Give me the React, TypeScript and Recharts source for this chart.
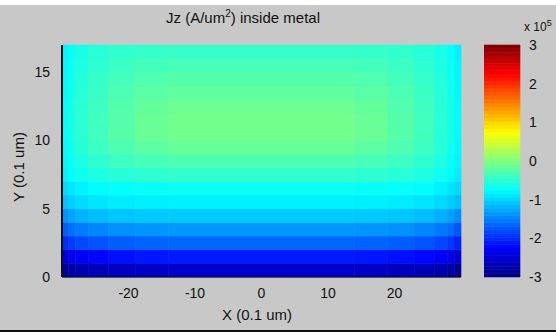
import {
  ReferenceArea,
  Scatter,
  ScatterChart,
  XAxis,
  YAxis,
} from "recharts";

// column group edges along X (0.1 um)
const X_EDGES = [-30, -29, -28, -26, -23, -19, -14, 14, 19, 23, 26, 28, 29, 30];
// one value per column group, per row (row k spans Y = k .. k+1), x 10^5
const ROW_0 = [-2.85, -2.78, -2.72, -2.66, -2.62, -2.58, -2.55, -2.58, -2.62, -2.66, -2.72, -2.8, -2.9];
const ROW_1 = [-2.45, -2.35, -2.28, -2.22, -2.16, -2.12, -2.1, -2.12, -2.16, -2.22, -2.3, -2.4, -2.5];
const ROW_2 = [-2.0, -1.9, -1.82, -1.76, -1.7, -1.67, -1.65, -1.67, -1.7, -1.76, -1.84, -1.94, -2.05];
const ROW_3 = [-1.7, -1.6, -1.52, -1.46, -1.4, -1.37, -1.35, -1.37, -1.4, -1.46, -1.54, -1.62, -1.75];
const ROW_4 = [-1.38, -1.28, -1.2, -1.14, -1.09, -1.07, -1.05, -1.07, -1.09, -1.14, -1.22, -1.3, -1.42];
const ROW_5 = [-1.1, -1.02, -0.96, -0.9, -0.86, -0.84, -0.83, -0.84, -0.86, -0.9, -0.97, -1.04, -1.12];
const ROW_6 = [-0.95, -0.88, -0.82, -0.76, -0.72, -0.7, -0.68, -0.7, -0.72, -0.76, -0.83, -0.9, -0.97];
const ROW_7 = [-0.82, -0.74, -0.66, -0.58, -0.52, -0.48, -0.45, -0.48, -0.52, -0.58, -0.67, -0.76, -0.85];
const ROW_8 = [-0.78, -0.68, -0.58, -0.48, -0.4, -0.34, -0.3, -0.34, -0.4, -0.48, -0.59, -0.7, -0.8];
const ROW_9 = [-0.76, -0.64, -0.52, -0.4, -0.3, -0.2, -0.15, -0.2, -0.3, -0.4, -0.53, -0.66, -0.78];
const ROW_10 = [-0.75, -0.62, -0.5, -0.37, -0.25, -0.14, -0.08, -0.14, -0.25, -0.37, -0.51, -0.64, -0.77];
const ROW_11 = [-0.75, -0.62, -0.5, -0.37, -0.25, -0.14, -0.08, -0.14, -0.25, -0.37, -0.51, -0.64, -0.77];
const ROW_12 = [-0.75, -0.62, -0.5, -0.38, -0.27, -0.17, -0.12, -0.17, -0.27, -0.38, -0.51, -0.64, -0.77];
const ROW_13 = [-0.76, -0.63, -0.52, -0.41, -0.3, -0.22, -0.18, -0.22, -0.3, -0.41, -0.53, -0.65, -0.78];
const ROW_14 = [-0.77, -0.65, -0.54, -0.44, -0.35, -0.28, -0.25, -0.28, -0.35, -0.44, -0.55, -0.67, -0.79];
const ROW_15 = [-0.78, -0.67, -0.57, -0.48, -0.4, -0.35, -0.33, -0.35, -0.4, -0.48, -0.58, -0.69, -0.8];
const ROW_16 = [-0.8, -0.7, -0.6, -0.52, -0.47, -0.44, -0.42, -0.44, -0.47, -0.52, -0.61, -0.72, -0.82];

const ROWS = [
  ROW_0, ROW_1, ROW_2, ROW_3, ROW_4, ROW_5, ROW_6, ROW_7, ROW_8,
  ROW_9, ROW_10, ROW_11, ROW_12, ROW_13, ROW_14, ROW_15, ROW_16,
];

const X_TICKS = [-20, -10, 0, 10, 20];
const Y_TICKS = [0, 5, 10, 15];
const CBAR_TICKS = [-3, -2, -1, 0, 1, 2, 3];
const C_MIN = -3;
const C_MAX = 3;
const CBAR_STEPS = 64;

const FONT = "'Liberation Sans', Arial, sans-serif";
const BG = "#c8c8c8";

// MATLAB jet colormap
function jet(value: number): string {
  const t = Math.min(1, Math.max(0, (value - C_MIN) / (C_MAX - C_MIN)));
  const ch = (x: number) => Math.min(1, Math.max(0, x));
  const r = ch(1.5 - Math.abs(4 * t - 3));
  const g = ch(1.5 - Math.abs(4 * t - 2));
  const b = ch(1.5 - Math.abs(4 * t - 1));
  const hex = (v: number) => Math.round(v * 255).toString(16).padStart(2, "0");
  return `#${hex(r)}${hex(g)}${hex(b)}`;
}

const cells = ROWS.flatMap((row, k) =>
  row.map((value, i) => ({
    x1: X_EDGES[i],
    x2: X_EDGES[i + 1],
    y1: k,
    y2: k + 1,
    color: jet(value),
  }))
);

const centers = cells.map((c) => ({ x: (c.x1 + c.x2) / 2, y: (c.y1 + c.y2) / 2 }));

const bands = Array.from({ length: CBAR_STEPS }, (_, i) => {
  const lo = C_MIN + ((C_MAX - C_MIN) * i) / CBAR_STEPS;
  const hi = C_MIN + ((C_MAX - C_MIN) * (i + 1)) / CBAR_STEPS;
  return { y1: lo, y2: hi, color: jet((lo + hi) / 2) };
});

const tickStyle = { fontFamily: FONT, fontSize: 14, fill: "#111" };

export default function App() {
  return (
    <div
      style={{
        position: "absolute",
        left: 0,
        top: 0,
        width: 556,
        height: 332,
        background: BG,
        overflow: "hidden",
        fontFamily: FONT,
      }}
    >
      <div style={{ position: "absolute", left: 0, top: 0, width: 556, height: 5, background: "#fff" }} />
      <div style={{ position: "absolute", left: 0, top: 330, width: 556, height: 2, background: "#111" }} />

      <ScatterChart
        width={556}
        height={332}
        margin={{ top: 45, right: 95, bottom: 35, left: 22 }}
        style={{ position: "absolute", left: 0, top: 0 }}
      >
        <XAxis
          type="number"
          dataKey="x"
          domain={[-30, 30]}
          ticks={X_TICKS}
          allowDataOverflow
          height={20}
          axisLine={{ stroke: "#111" }}
          tickLine={false}
          tick={tickStyle}
          tickMargin={5}
        />
        <YAxis
          type="number"
          dataKey="y"
          domain={[0, 17]}
          ticks={Y_TICKS}
          allowDataOverflow
          width={40}
          axisLine={{ stroke: "#111", strokeWidth: 2 }}
          tickLine={false}
          tick={tickStyle}
          tickMargin={6}
        />
        {cells.map((c, i) => (
          <ReferenceArea
            key={i}
            x1={c.x1}
            x2={c.x2}
            y1={c.y1}
            y2={c.y2}
            fill={c.color}
            fillOpacity={1}
            stroke={c.color}
            strokeWidth={0.6}
            ifOverflow="visible"
          />
        ))}
        <Scatter data={centers} fill="none" fillOpacity={0} isAnimationActive={false} />
      </ScatterChart>

      <ScatterChart
        width={72}
        height={332}
        margin={{ top: 45, right: 0, bottom: 55, left: 0 }}
        style={{ position: "absolute", left: 484, top: 0 }}
      >
        <XAxis type="number" dataKey="x" domain={[0, 1]} hide />
        <YAxis
          type="number"
          dataKey="y"
          orientation="right"
          domain={[C_MIN, C_MAX]}
          ticks={CBAR_TICKS}
          width={36}
          axisLine={false}
          tickLine={false}
          tick={tickStyle}
          tickMargin={3}
        />
        {bands.map((b, i) => (
          <ReferenceArea
            key={i}
            x1={0}
            x2={1}
            y1={b.y1}
            y2={b.y2}
            fill={b.color}
            fillOpacity={1}
            stroke={b.color}
            strokeWidth={0.6}
            ifOverflow="visible"
          />
        ))}
        <Scatter data={[{ x: 0.5, y: 0 }]} fill="none" fillOpacity={0} isAnimationActive={false} />
      </ScatterChart>

      <div
        style={{
          position: "absolute",
          left: 133,
          top: 8,
          width: 220,
          textAlign: "center",
          fontSize: 15,
          color: "#111",
          whiteSpace: "nowrap",
        }}
      >
        Jz (A/um<sup style={{ fontSize: 10 }}>2</sup>) inside metal
      </div>
      <div
        style={{
          position: "absolute",
          left: 524,
          top: 18,
          fontSize: 12,
          color: "#111",
          whiteSpace: "nowrap",
        }}
      >
        x 10<sup style={{ fontSize: 9 }}>5</sup>
      </div>
      <div
        style={{
          position: "absolute",
          left: 197,
          top: 306,
          width: 120,
          textAlign: "center",
          fontSize: 15,
          color: "#111",
        }}
      >
        X (0.1 um)
      </div>
      <div
        style={{
          position: "absolute",
          left: 18 - 60,
          top: 167,
          width: 120,
          textAlign: "center",
          fontSize: 15,
          color: "#111",
          transform: "translateY(-50%) rotate(-90deg)",
        }}
      >
        Y (0.1 um)
      </div>
    </div>
  );
}
